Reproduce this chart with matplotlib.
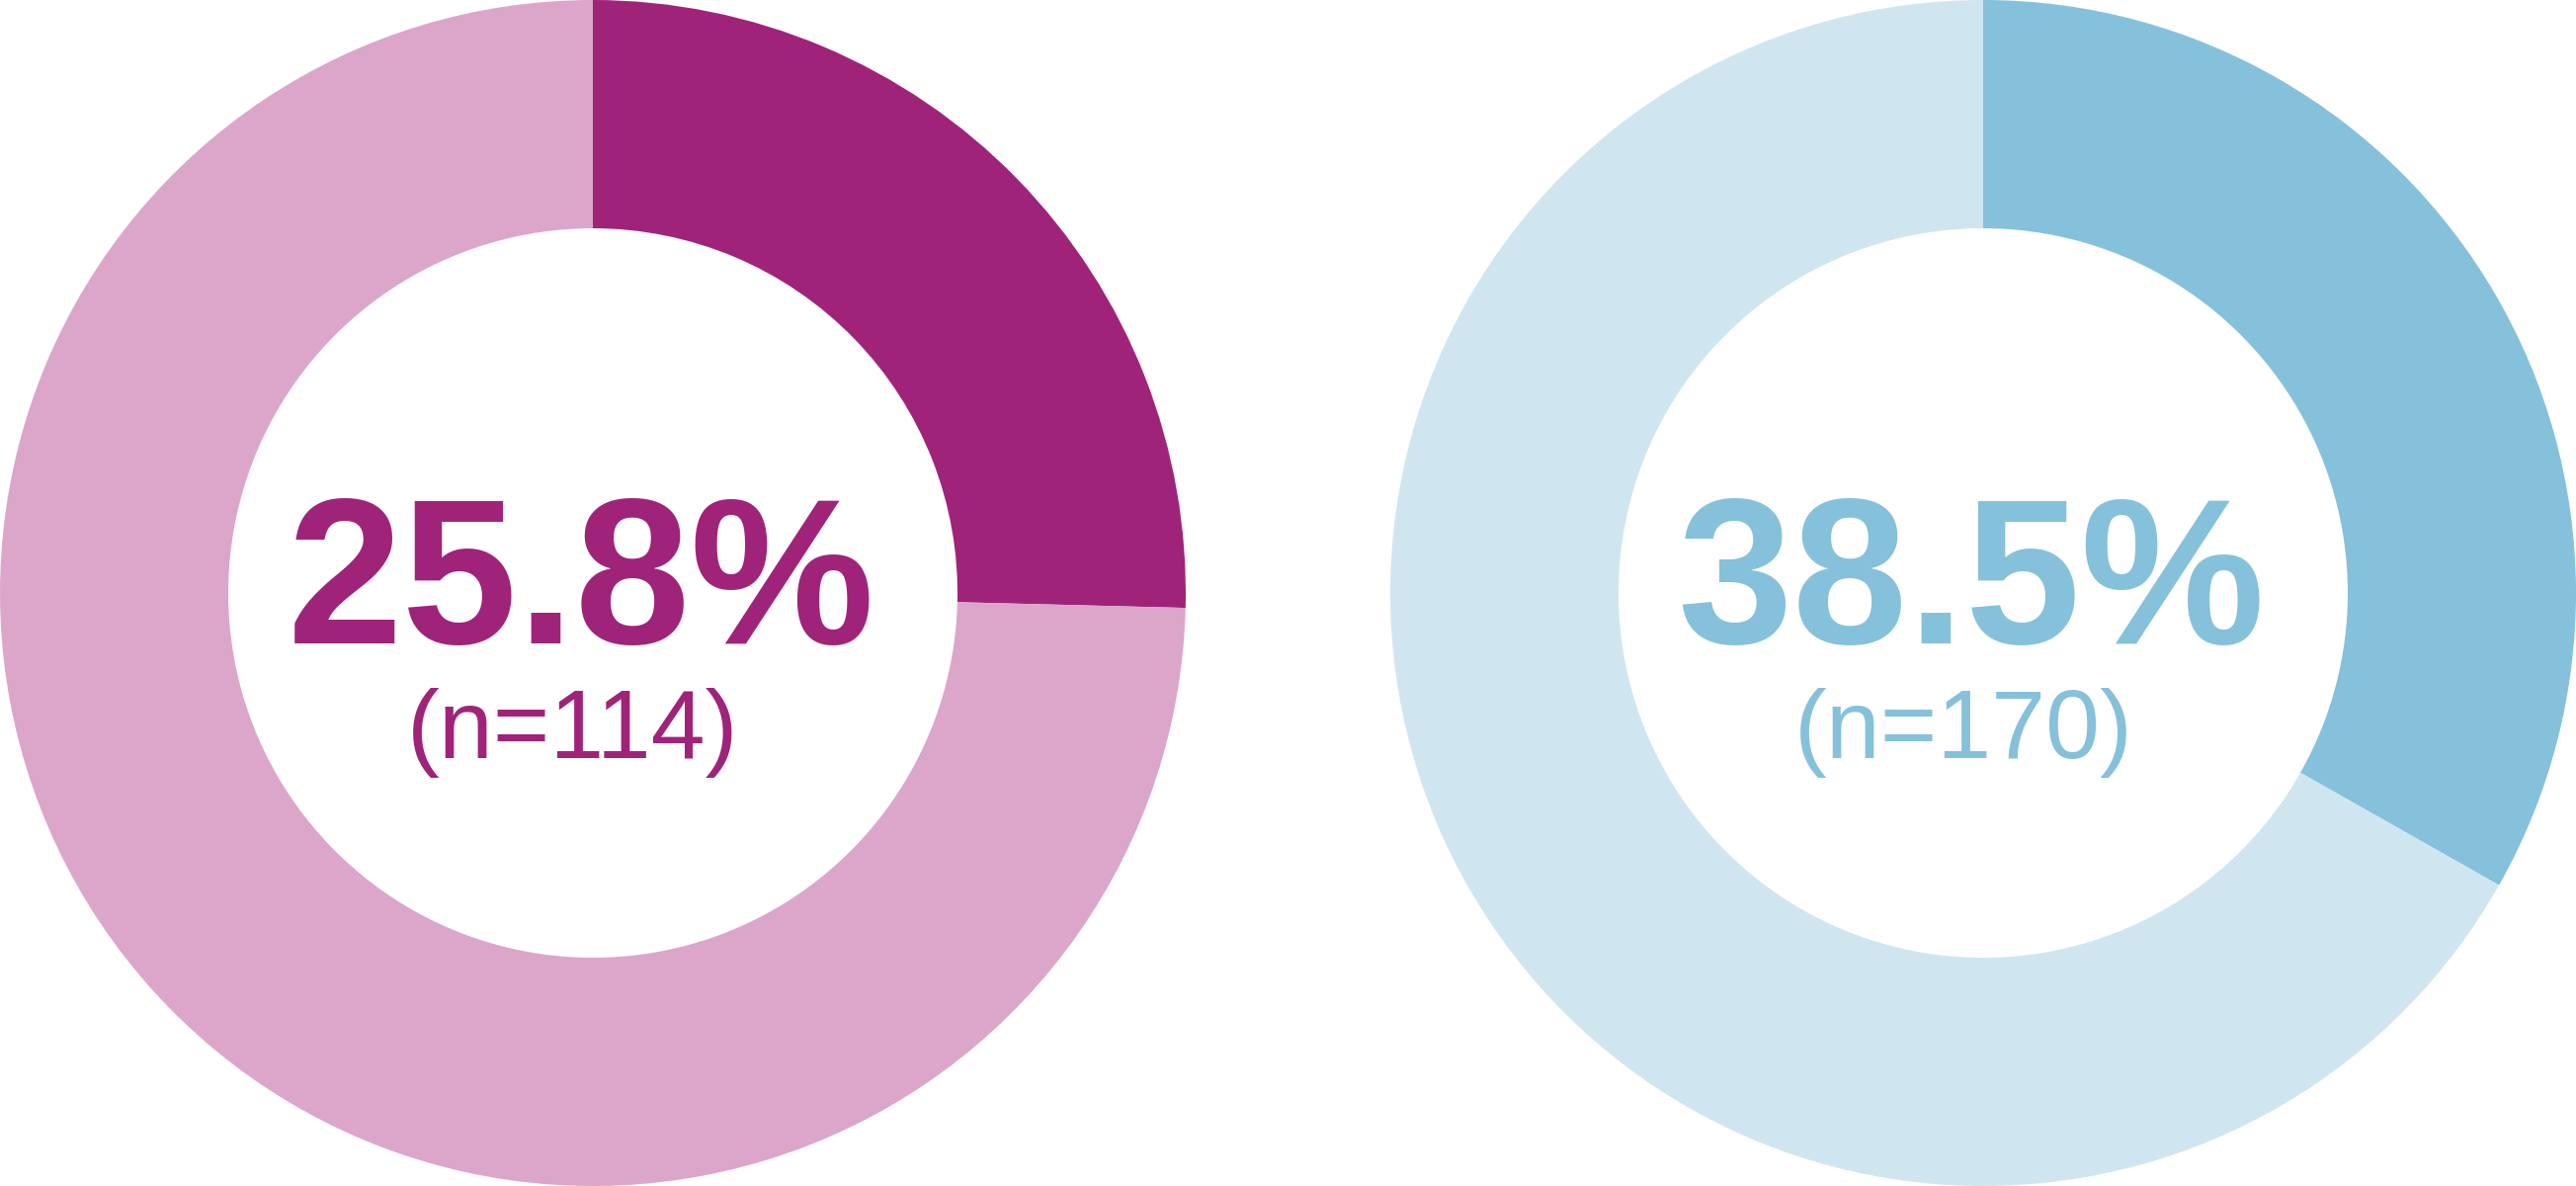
import matplotlib
matplotlib.use("Agg")
import matplotlib.pyplot as plt
from matplotlib import font_manager

# two donut charts, share shown as dark slice starting at 12 o'clock
groups = ["left", "right"]
pct_labels = [25.8, 38.5]
n_values = [114, 170]
drawn_share = [25.4, 33.2]  # slice size as it appears in the picture
dark_colors = ["#A0237A", "#85C1DA"]
light_colors = ["#DBA6C9", "#CFE6F0"]

# Arial-like font, taken straight from the installed files
bold_file = font_manager.findfont(font_manager.FontProperties(family="Liberation Sans", weight="bold"))
reg_file = font_manager.findfont(font_manager.FontProperties(family="Liberation Sans"))
pct_font = font_manager.FontProperties(fname=bold_file, size=151)
n_font = font_manager.FontProperties(fname=reg_file, size=71)

W, H = 2607, 1200
fig = plt.figure(figsize=(W / 100, H / 100), dpi=100)
ax = fig.add_axes([0, 0, 1, 1])

centers = [(600, 600), (2007, 600)]
outer_r = 600
inner_r = 369

for i, g in enumerate(groups):
    cx, cy = centers[i]
    share = drawn_share[i]
    ax.pie([share, 100 - share], colors=[dark_colors[i], light_colors[i]],
           startangle=90, counterclock=False, center=(cx, cy), radius=outer_r,
           wedgeprops=dict(width=outer_r - inner_r, linewidth=0))
    ax.text(cx - 12, cy - 51, f"{pct_labels[i]:.1f}%", ha="center", va="baseline",
            fontproperties=pct_font, color=dark_colors[i])
    ax.text(cx - 20, cy - 167, f"(n={n_values[i]})", ha="center", va="baseline",
            fontproperties=n_font, color=dark_colors[i])

ax.set_xlim(0, W)
ax.set_ylim(0, H)
ax.set_aspect("equal")
ax.set_axis_off()

fig.savefig("out.png", dpi=100, facecolor="white")
plt.close(fig)
